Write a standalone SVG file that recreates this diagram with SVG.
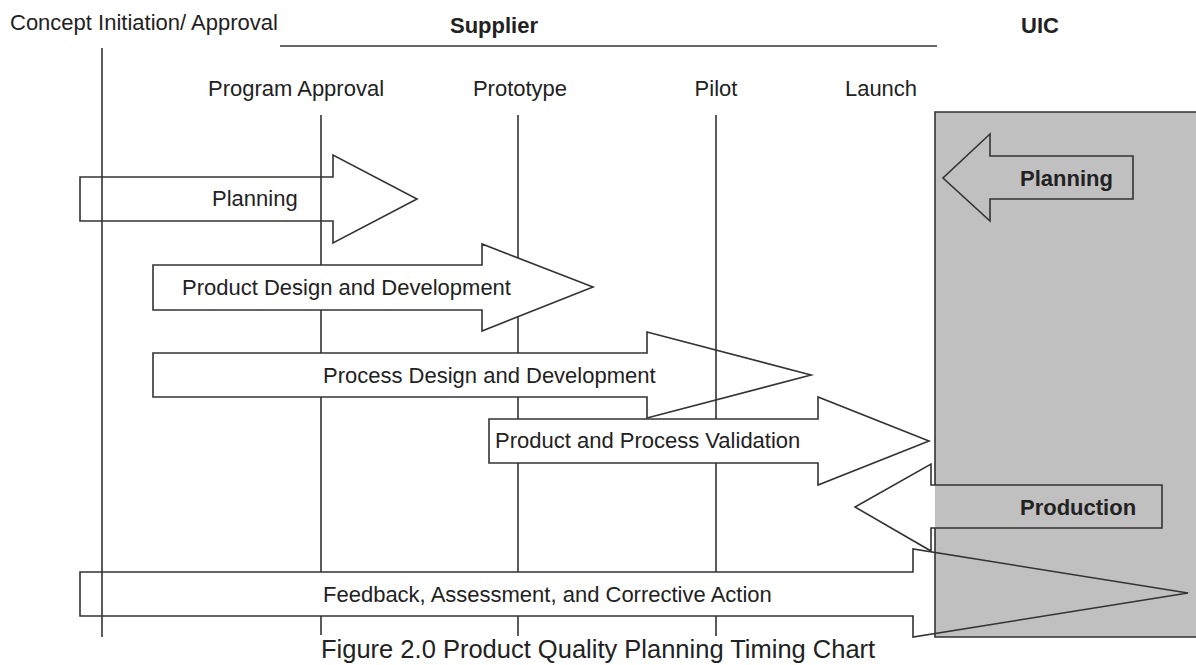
<svg xmlns="http://www.w3.org/2000/svg" width="1196" height="665" viewBox="0 0 1196 665">
<style>
.t{font-family:"Liberation Sans",Arial,sans-serif;font-size:22px;fill:#222}
.b{font-weight:bold}
.ar{fill:none;stroke:#333;stroke-width:1.6;stroke-linejoin:miter}
.ln{fill:none;stroke:#333;stroke-width:1.6}
</style>
<rect width="1196" height="665" fill="#fff"/>
<g id="uic-zone">
<rect x="935" y="112" width="262" height="525" fill="#c0c0c0"/>
<path class="ln" d="M1197,112 H935 V485 M935,528 V637 H1197"/>
</g>
<g id="headers">
<text class="t" x="10" y="30">Concept Initiation/ Approval</text>
<text class="t b" x="494" y="33" text-anchor="middle">Supplier</text>
<text class="t b" x="1040" y="33" text-anchor="middle">UIC</text>
<path class="ln" d="M280,46 H937"/>
<text class="t" x="296" y="96" text-anchor="middle">Program Approval</text>
<text class="t" x="520" y="96" text-anchor="middle">Prototype</text>
<text class="t" x="716" y="96" text-anchor="middle">Pilot</text>
<text class="t" x="881" y="96" text-anchor="middle">Launch</text>
</g>
<g id="milestones">
<path class="ln" d="M102,48 V637"/>
<path class="ln" d="M321,115 V265 M321,310 V353 M321,397 V572 M321,616 V635"/>
<path class="ln" d="M518,115 V258 M518,317 V353 M518,397 V419 M518,463 V572 M518,616 V636"/>
<path class="ln" d="M716,115 V419 M716,463 V572 M716,616 V636"/>
</g>
<g id="planning">
<polygon class="ar" points="80,177 333,177 333,155 417,199 333,243 333,221 80,221"/>
<text class="t" x="212" y="206">Planning</text>
</g>
<g id="product-design">
<polygon class="ar" points="153,265 482,265 482,244 593,287 482,331 482,310 153,310"/>
<text class="t" x="182" y="295">Product Design and Development</text>
</g>
<g id="process-design">
<polygon class="ar" points="153,353 647,353 647,332 811,375 647,418 647,397 153,397"/>
<text class="t" x="323" y="383">Process Design and Development</text>
</g>
<g id="validation">
<polygon class="ar" points="489,419 818,419 818,397 929,441 818,485 818,463 489,463"/>
<text class="t" x="495" y="448">Product and Process Validation</text>
</g>
<g id="uic-planning">
<polygon class="ar" points="1133,156 990,156 990,134 943,178 990,221 990,199 1133,199"/>
<text class="t b" x="1020" y="186">Planning</text>
</g>
<g id="production">
<polygon class="ar" points="1162,485 931,485 931,464 855,507 931,551 931,528 1162,528"/>
<text class="t b" x="1020" y="515">Production</text>
</g>
<g id="feedback">
<polygon class="ar" points="80,572 913,572 913,549 1188,593 913,637 913,616 80,616"/>
<text class="t" x="323" y="602">Feedback, Assessment, and Corrective Action</text>
</g>
<text class="t" x="321" y="658" style="font-size:25.5px">Figure 2.0 Product Quality Planning Timing Chart</text>
</svg>
